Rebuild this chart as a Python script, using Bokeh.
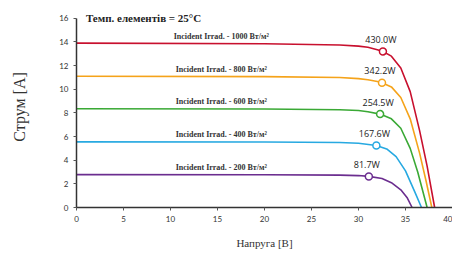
from bokeh.plotting import figure
from bokeh.models import Range1d, FixedTicker, ColumnDataSource, Label
from bokeh.core.properties import value
from bokeh.embed import file_html
from bokeh.resources import INLINE

# Data
irradiances = ["1000", "800", "600", "400", "200"]
colors = ["#c8102e", "#f5a31a", "#3aa935", "#27a9e1", "#6b2d8f"]

v_1000 = [0, 20, 28, 30, 31, 32, 32.6, 33.5, 34.5, 35.5, 36.5, 37.3, 38.1]
i_1000 = [13.9, 13.85, 13.75, 13.65, 13.55, 13.35, 13.2, 12.8, 11.8, 9.8, 6.5, 3.5, 0]
v_800 = [0, 20, 28, 30, 31, 32, 32.5, 33.5, 34.5, 35.5, 36.5, 37.2, 37.8]
i_800 = [11.1, 11.07, 11.0, 10.9, 10.8, 10.65, 10.55, 10.2, 9.3, 7.5, 4.6, 2.2, 0]
v_600 = [0, 20, 28, 30, 31, 32.3, 33.5, 34.5, 35.5, 36.3, 37.3]
i_600 = [8.35, 8.33, 8.27, 8.2, 8.1, 7.9, 7.5, 6.7, 5.0, 3.0, 0]
v_400 = [0, 20, 28, 30, 31.9, 33, 34, 35, 36, 36.7]
i_400 = [5.55, 5.54, 5.5, 5.43, 5.25, 4.95, 4.3, 3.1, 1.3, 0]
v_200 = [0, 20, 28, 30, 31.1, 32.5, 33.5, 34.5, 35.2, 35.7]
i_200 = [2.78, 2.77, 2.74, 2.7, 2.63, 2.45, 2.1, 1.5, 0.8, 0]

mpp_v = [32.6, 32.5, 32.3, 31.9, 31.1]
mpp_i = [13.2, 10.55, 7.9, 5.25, 2.63]
mpp_labels = ["430.0W", "342.2W", "254.5W", "167.6W", "81.7W"]
isc = [13.9, 11.1, 8.35, 5.55, 2.78]

curves_v = [v_1000, v_800, v_600, v_400, v_200]
curves_i = [i_1000, i_800, i_600, i_400, i_200]

x_ticks = [0, 5, 10, 15, 20, 25, 30, 35, 40]
y_ticks = [0, 2, 4, 6, 8, 10, 12, 14, 16]

p = figure(width=452, height=253, output_backend="svg", toolbar_location=None,
           x_range=Range1d(0, 40), y_range=Range1d(0, 17),
           min_border_left=76, min_border_right=0, min_border_top=6, min_border_bottom=46)
p.outline_line_color = None
p.grid.grid_line_color = None

for vv, ii, c in zip(curves_v, curves_i, colors):
    p.line(vv, ii, line_color=c, line_width=1.6)

src = ColumnDataSource(dict(x=mpp_v, y=mpp_i, c=colors, lab=mpp_labels,
                            ly=[y + 1.0 for y in mpp_i]))
p.scatter("x", "y", source=src, size=7, fill_color="white", line_color="c", line_width=1.5)
p.text("x", "ly", text="lab", source=src, text_align="center", text_baseline="middle",
       text_font=value("Open Sans"), text_font_size="9px", text_color="#222222", x_offset=-2)

lab_src = ColumnDataSource(dict(x=[15.4] * 5, y=[v + 0.6 for v in isc],
                                t=["Incident Irrad. - %s Вт/м²" % s for s in irradiances]))
p.text("x", "y", text="t", source=lab_src, text_align="center", text_baseline="middle",
       text_font=value("Liberation Serif"), text_font_style="bold", text_font_size="8px",
       text_color="#333333")

p.add_layout(Label(x=1.0, y=16.0, text="Темп. елементів = 25°C", text_align="left",
                   text_baseline="middle", text_font="Liberation Serif", text_font_style="bold",
                   text_font_size="11px", text_color="#222222"))

for ax in (p.xaxis[0], p.yaxis[0]):
    ax.axis_line_width = 1.5
    ax.axis_line_color = "#333333"
    ax.major_tick_line_color = "#555555"
    ax.major_tick_out = 3
    ax.major_tick_in = 0
    ax.minor_tick_line_color = None
    ax.major_label_text_font = "Lato"
    ax.major_label_text_font_size = "8px"
    ax.major_label_text_color = "#333333"
    ax.axis_label_text_font = "Liberation Serif"
    ax.axis_label_text_font_style = "normal"
    ax.axis_label_text_color = "#333333"

p.yaxis[0].bounds = (0, 16)
p.xaxis[0].ticker = FixedTicker(ticks=x_ticks)
p.yaxis[0].ticker = FixedTicker(ticks=y_ticks)
p.xaxis[0].axis_label = "Напруга [В]"
p.xaxis[0].axis_label_text_font_size = "11px"
p.xaxis[0].axis_label_standoff = 12
p.yaxis[0].axis_label = "Струм [А]"
p.yaxis[0].axis_label_text_font_size = "16px"
p.yaxis[0].axis_label_standoff = 28

open("out.html", "w").write(file_html(p, INLINE))
